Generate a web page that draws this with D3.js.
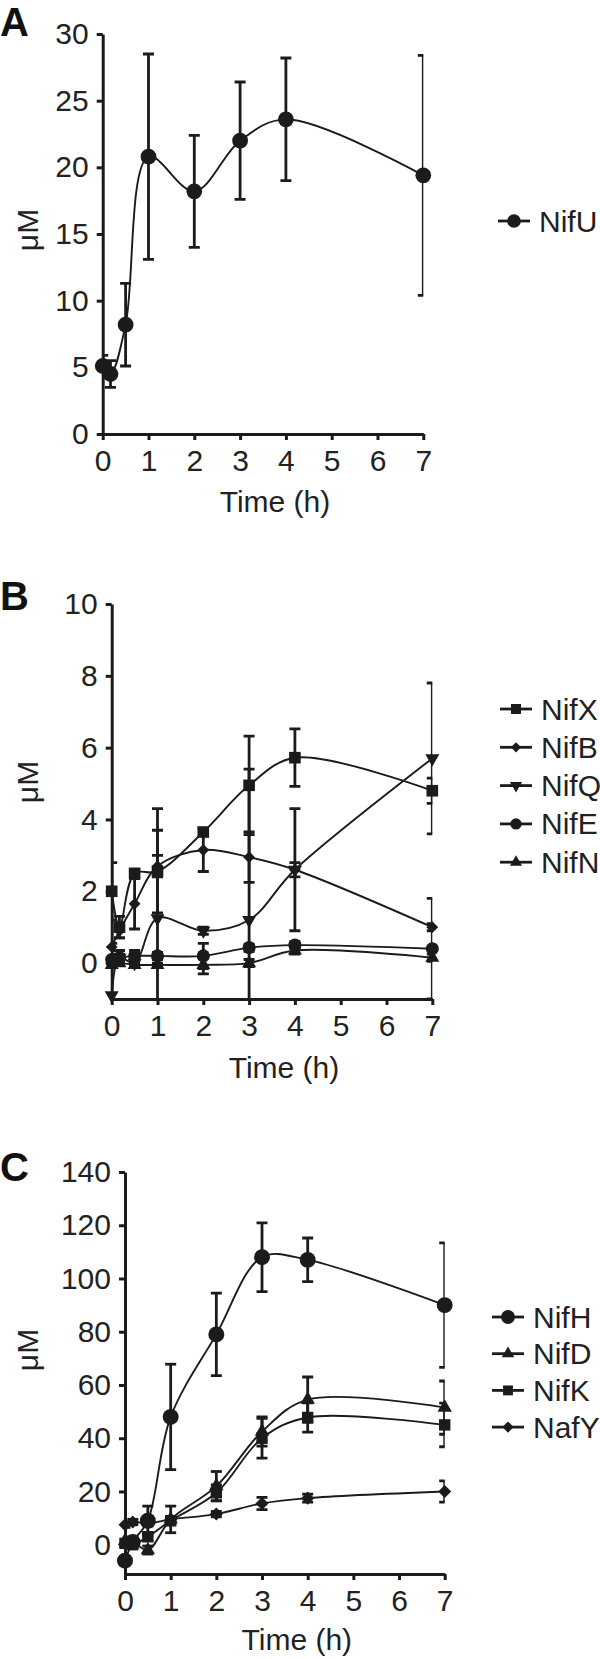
<!DOCTYPE html>
<html>
<head>
<meta charset="utf-8">
<script src="https://cdn.jsdelivr.net/npm/d3@7"></script>
<style>
body { margin: 0; background: #fff; }
text { font-family: "Liberation Sans", Arial, sans-serif; fill: #222; }
</style>
</head>
<body>
<script>
// sampling times (h)
var time = [0, 0.17, 0.5, 1, 2, 3, 4, 7];
var xTicks = [0, 1, 2, 3, 4, 5, 6, 7];

// panel A
var yTicksA = [0, 5, 10, 15, 20, 25, 30];
var nifU = [5.1, 4.5, 8.2, 20.8, 18.2, 22.0, 23.6, 19.4];
var nifUErr = [0.8, 1.0, 3.1, 7.7, 4.2, 4.4, 4.6, 9.0];

// panel B
var yTicksB = [0, 2, 4, 6, 8, 10];
var nifX = [2.0, 1.0, 2.5, 2.55, 3.65, 4.95, 5.72, 4.8];
var nifXErr = [0.8, 0.3, 0.1, 1.15, 0.1, 1.37, 0.8, 0.35];
var nifB = [0.45, 0.9, 1.65, 2.7, 3.15, 2.95, 2.6, 1.0];
var nifBErr = [0.1, 0.2, 0.7, 0.3, 0.6, 0.7, 0.2, 0.1];
var nifQ = [-0.9, 0.15, 0.0, 1.25, 0.9, 1.2, 2.6, 5.7];
var nifQErr = [0, 0.2, 0.1, 3.05, 0.1, 4.2, 1.7, 2.1];
var nifE = [0.1, 0.15, 0.2, 0.2, 0.2, 0.43, 0.5, 0.4];
var nifEErr = [0.1, 0.1, 0.15, 0.1, 0.35, 0.1, 0.1, 1.4];
var nifN = [-0.05, 0.0, -0.05, -0.05, -0.05, 0.0, 0.35, 0.15];
var nifNErr = [0.05, 0.05, 0.05, 0.05, 0.25, 0.1, 0.1, 0.1];

// panel C
var yTicksC = [0, 20, 40, 60, 80, 100, 120, 140];
var nifH = [-6, 1, 9, 48, 79, 108, 107, 90];
var nifHErr = [0, 2, 5.5, 19.8, 15.5, 12.9, 8.2, 23.4];
var nifD = [1.5, 1, -2, 9.5, 22, 42.5, 54.5, 51.5];
var nifDErr = [1, 1, 1.5, 5, 5.5, 5.5, 8.5, 10];
var nifK = [0.5, 0, 3, 9, 19.5, 40, 47.8, 45];
var nifKErr = [1, 1, 1.5, 1.5, 3, 7.5, 5.5, 8.2];
var nafY = [7.5, 8.5, 8, 9.5, 11.5, 15.5, 17.5, 20];
var nafYErr = [1, 1, 1, 1, 1, 2.3, 1.5, 4];

var width = 600;
var height = 1659;
const canvas = d3.select("body")
    .append("svg")
    .attr("width", width)
    .attr("height", height);

const ink = "#1b1b1b";
const fs = 30;

function marker(shape, size) {
    var type = d3.symbolCircle, rot = 0;
    if (shape == "square") type = d3.symbolSquare;
    if (shape == "diamond") { type = d3.symbolSquare; rot = 45; }
    if (shape == "up") type = d3.symbolTriangle;
    if (shape == "down") { type = d3.symbolTriangle; rot = 180; }
    return { d: d3.symbol().type(type).size(size)(), rot: rot };
}

function drawPanel(p, id) {
    const x = d3.scaleLinear().domain([0, 7]).range([p.x0, p.x1]);
    const y = d3.scaleLinear().domain(p.yDomain).range(p.yRange);
    const g = canvas.append("g");

    // panel letter
    g.append("text")
        .attr("x", 0)
        .attr("y", p.letterY)
        .attr("font-size", 40)
        .attr("font-weight", "bold")
        .style("fill", "#111")
        .text(p.letter);

    // axes
    const yAxis = g.append("g")
        .attr("transform", "translate(" + p.x0 + ",0)")
        .call(d3.axisLeft(y).tickValues(p.yTicks).tickFormat(d3.format("d"))
            .tickSize(6).tickSizeOuter(0).tickPadding(8));
    const xAxis = g.append("g")
        .attr("transform", "translate(0," + p.yRange[0] + ")")
        .call(d3.axisBottom(x).tickValues(xTicks).tickFormat(d3.format("d"))
            .tickSize(6).tickSizeOuter(0).tickPadding(10));
    [yAxis, xAxis].forEach(function (a) {
        a.selectAll("path, line").attr("stroke", ink).attr("stroke-width", 3);
        a.selectAll("text").attr("font-size", fs).attr("font-family", null).style("fill", "#222");
    });

    g.append("text")
        .attr("x", (p.x0 + p.x1) / 2 + 12)
        .attr("y", p.yRange[0] + p.titleGap)
        .attr("text-anchor", "middle")
        .attr("font-size", fs)
        .text("Time (h)");

    g.append("text")
        .attr("transform", "translate(38," + p.labelY + ") rotate(-90)")
        .attr("text-anchor", "middle")
        .attr("font-size", fs)
        .text("μM");

    // error bars are clipped to the plot area, as in the original
    canvas.append("clipPath").attr("id", "clip" + id)
        .append("rect")
        .attr("x", p.x0)
        .attr("y", p.yRange[1] - 40)
        .attr("width", p.x1 - p.x0)
        .attr("height", p.yRange[0] - p.yRange[1] + 40);

    const line = d3.line()
        .x(function (d) { return x(d[0]); })
        .y(function (d) { return y(d[1]); })
        .curve(d3.curveCatmullRom.alpha(0.5));

    p.series.forEach(function (s) {
        const pts = time.map(function (t, i) { return [t, s.values[i], s.err[i]]; });
        const sg = g.append("g");

        sg.append("path")
            .attr("d", line(pts))
            .attr("fill", "none")
            .attr("stroke", ink)
            .attr("stroke-width", 1.9);

        const eb = sg.append("g").attr("clip-path", "url(#clip" + id + ")");
        pts.filter(function (d) { return d[2] > 0; }).forEach(function (d) {
            const cx = x(d[0]), top = y(d[1] + d[2]), bot = y(d[1] - d[2]);
            eb.append("line").attr("x1", cx).attr("x2", cx).attr("y1", top).attr("y2", bot)
                .attr("stroke", ink).attr("stroke-width", 2.8);
            [top, bot].forEach(function (yy) {
                eb.append("line").attr("x1", cx - 5.5).attr("x2", cx + 5.5).attr("y1", yy).attr("y2", yy)
                    .attr("stroke", ink).attr("stroke-width", 2.8);
            });
        });

        const m = marker(s.shape, s.size);
        sg.selectAll("path.pt")
            .data(pts)
            .enter()
            .append("path")
            .attr("class", "pt")
            .attr("d", m.d)
            .attr("transform", function (d) { return "translate(" + x(d[0]) + "," + y(d[1]) + ") rotate(" + m.rot + ")"; })
            .attr("fill", ink);
    });

    // legend
    p.series.forEach(function (s, i) {
        const ly = p.legendY + i * p.legendStep;
        const lg = g.append("g").attr("transform", "translate(" + p.legendX + "," + ly + ")");
        lg.append("line").attr("x1", 0).attr("x2", 32).attr("y1", 0).attr("y2", 0)
            .attr("stroke", ink).attr("stroke-width", 2.8);
        const m = marker(s.shape, s.size * 0.75);
        lg.append("path").attr("d", m.d)
            .attr("transform", "translate(16,0) rotate(" + m.rot + ")")
            .attr("fill", ink);
        lg.append("text")
            .attr("x", 41)
            .attr("y", 10.5)
            .attr("font-size", fs)
            .text(s.name);
    });
}

drawPanel({
    letter: "A", letterY: 36,
    x0: 102.7, x1: 423.3,
    yDomain: [0, 30], yRange: [434, 34], yTicks: yTicksA,
    labelY: 230, titleGap: 78,
    legendX: 498, legendY: 221, legendStep: 38,
    series: [
        { name: "NifU", values: nifU, err: nifUErr, shape: "circle", size: 195 }
    ]
}, "A");

drawPanel({
    letter: "B", letterY: 610,
    x0: 111.7, x1: 432.3,
    yDomain: [-1, 10], yRange: [999, 604], yTicks: yTicksB,
    labelY: 782, titleGap: 79,
    legendX: 500, legendY: 709, legendStep: 38.3,
    series: [
        { name: "NifX", values: nifX, err: nifXErr, shape: "square", size: 135 },
        { name: "NifB", values: nifB, err: nifBErr, shape: "diamond", size: 70 },
        { name: "NifQ", values: nifQ, err: nifQErr, shape: "down", size: 85 },
        { name: "NifE", values: nifE, err: nifEErr, shape: "circle", size: 135 },
        { name: "NifN", values: nifN, err: nifNErr, shape: "up", size: 85 }
    ]
}, "B");

drawPanel({
    letter: "C", letterY: 1181,
    x0: 125, x1: 444.7,
    yDomain: [-11, 140], yRange: [1574, 1172], yTicks: yTicksC,
    labelY: 1350, titleGap: 76,
    legendX: 492, legendY: 1317, legendStep: 36.7,
    series: [
        { name: "NifH", values: nifH, err: nifHErr, shape: "circle", size: 200 },
        { name: "NifD", values: nifD, err: nifDErr, shape: "up", size: 90 },
        { name: "NifK", values: nifK, err: nifKErr, shape: "square", size: 130 },
        { name: "NafY", values: nafY, err: nafYErr, shape: "diamond", size: 85 }
    ]
}, "C");
</script>
</body>
</html>
